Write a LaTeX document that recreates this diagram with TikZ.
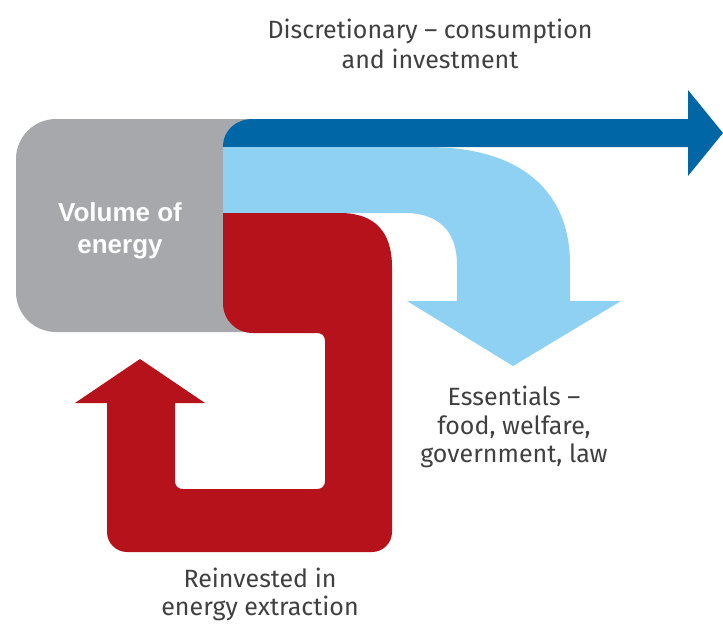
\documentclass[tikz,border=0pt]{standalone}
\usepackage{fontspec}
\setmainfont{Fira Sans}
\newfontfamily\boldsans{Liberation Sans}
\definecolor{boxgray}{HTML}{A7A8AB}
\definecolor{darkblue}{HTML}{0066A6}
\definecolor{lightblue}{HTML}{8ED1F2}
\definecolor{flowred}{HTML}{B5121B}
\definecolor{labelgray}{HTML}{404040}
\begin{document}
\begin{tikzpicture}[x=1pt,y=-1pt,
  label text/.style={inner sep=0pt, align=center, text=labelgray,
    font=\fontsize{25}{28.5}\selectfont}]
\useasboundingbox (0,0) rectangle (723,625);
% gray source box
\fill[boxgray, rounded corners=40pt] (16,119) rectangle (330,332);
% discretionary (dark blue)
\fill[darkblue] (253,119) -- (688,119) -- (688,90) -- (723,133) -- (688,176)
  -- (688,147) -- (223,147) .. controls (223,130) and (236,119) .. (253,119) -- cycle;
% essentials (light blue)
\fill[lightblue] (223,147) -- (427,147) .. controls (522,147) and (570,192) .. (570,264)
  -- (570,301) -- (621,301) -- (513,366) -- (407,301) -- (457,301) -- (457,264)
  .. controls (457,233) and (440,213) .. (405,213) -- (223,213) -- cycle;
% reinvested (red)
\fill[flowred] (223,213) -- (340,213) .. controls (375,213) and (392,232) .. (392,267)
  -- (392,532) .. controls (392,543) and (383,552) .. (372,552)
  -- (127,552) .. controls (116,552) and (107,543) .. (107,532)
  -- (107,403) -- (75,403) -- (140,359) -- (205,403) -- (175,403)
  -- (175,481) .. controls (175,486) and (178,489) .. (183,489)
  -- (317,489) .. controls (322,489) and (325,486) .. (325,481)
  -- (325,341) .. controls (325,336) and (322,333) .. (317,333)
  -- (253,333) .. controls (236,333) and (223,320) .. (223,303) -- cycle;
% labels
\node[inner sep=0pt, align=center, text=white,
  font=\boldsans\bfseries\fontsize{26}{32}\selectfont] (vol) at (120,231)
  {Volume of\\energy};
\node[label text, anchor=north, font=\fontsize{25}{30}\selectfont] (disc) at (430,19)
  {Discretionary -- consumption\\and investment};
\node[label text, anchor=north] (ess) at (514,386)
  {Essentials --\\food, welfare,\\government, law};
\node[label text, anchor=north, font=\fontsize{25}{27.5}\selectfont] (reinv) at (260,568)
  {Reinvested in\\energy extraction};
\end{tikzpicture}
\end{document}
